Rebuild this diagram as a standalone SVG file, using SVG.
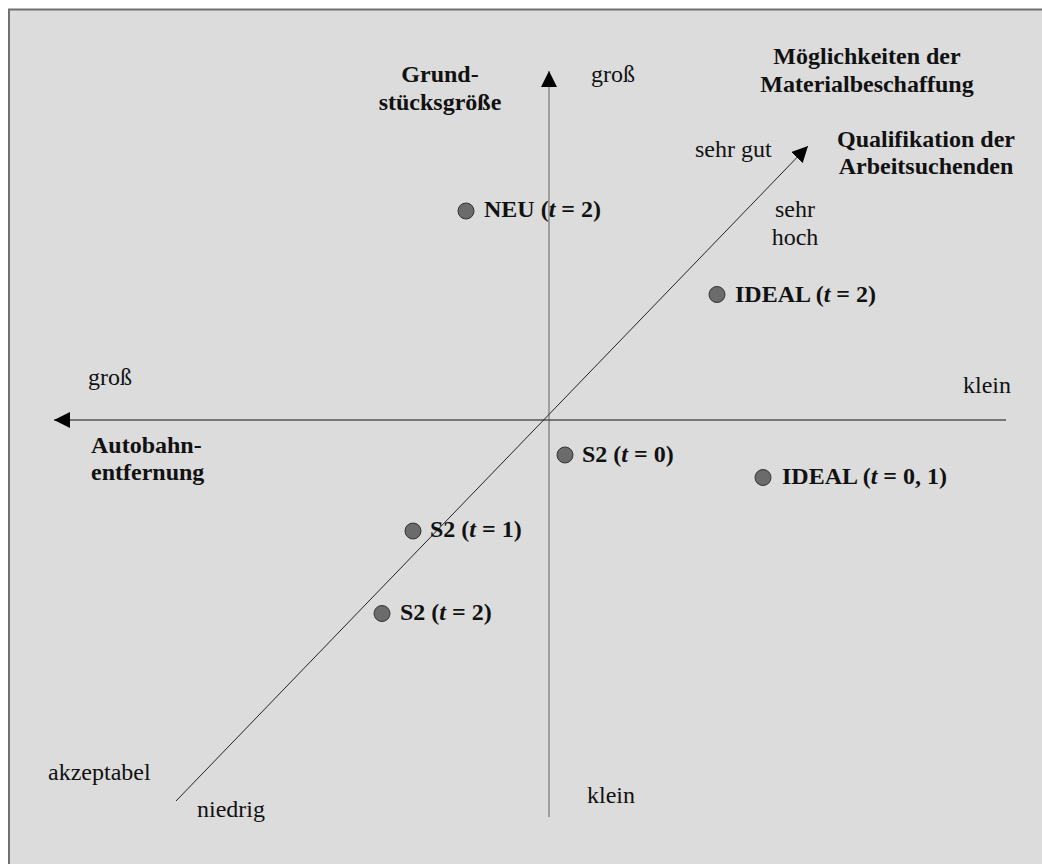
<svg xmlns="http://www.w3.org/2000/svg" width="1042" height="864" viewBox="0 0 1042 864">
  <style>
    text { font-family: "Liberation Serif", "Times New Roman", serif; font-size: 24px; fill: #111; }
    .b { font-weight: bold; }
    .i { font-style: italic; }
    .m { text-anchor: middle; }
    .dot { fill: #6b6b6b; stroke: #333; stroke-width: 1; }
  </style>
  <defs>
    <marker id="arr" markerUnits="userSpaceOnUse" viewBox="0 0 16 16" markerWidth="16" markerHeight="16" refX="16" refY="8" orient="auto">
      <path d="M0,0 L16,8 L0,16 z" fill="#000"/>
    </marker>
  </defs>
  <rect x="0" y="0" width="1042" height="864" fill="#fff"/>
  <rect id="frame" x="9" y="9.5" width="1100" height="900" fill="#dcdcdc" stroke="#707070" stroke-width="2"/>

  <g id="connectors">
    <line id="axis-y" x1="549" y1="817" x2="549" y2="71" stroke="#8a8a8a" stroke-width="1.5" marker-end="url(#arr)"/>
    <line id="axis-x" x1="1006" y1="420" x2="54" y2="420" stroke="#555" stroke-width="1.3" marker-end="url(#arr)"/>
    <line id="axis-z" x1="176" y1="801" x2="808" y2="146" stroke="#222" stroke-width="1" marker-end="url(#arr)"/>
  </g>

  <g id="axis-labels">
    <text class="b m" x="440" y="82">Grund-</text>
    <text class="b m" x="440" y="110">stücksgröße</text>
    <text x="591" y="82">groß</text>
    <text class="b m" x="867" y="64">Möglichkeiten der</text>
    <text class="b m" x="867" y="92">Materialbeschaffung</text>
    <text class="b m" x="926" y="147">Qualifikation der</text>
    <text class="b m" x="926" y="174">Arbeitsuchenden</text>
    <text x="695" y="157">sehr gut</text>
    <text class="m" x="795" y="217">sehr</text>
    <text class="m" x="795" y="245">hoch</text>
    <text x="88" y="385">groß</text>
    <text x="963" y="393">klein</text>
    <text class="b" x="91" y="453">Autobahn-</text>
    <text class="b" x="91" y="480">entfernung</text>
    <text x="48" y="780">akzeptabel</text>
    <text x="197" y="817">niedrig</text>
    <text x="587" y="803">klein</text>
  </g>

  <g id="node-neu">
    <circle class="dot" cx="466" cy="211" r="8"/>
    <text class="b" x="484" y="217">NEU (<tspan class="i">t</tspan> = 2)</text>
  </g>
  <g id="node-ideal-2">
    <circle class="dot" cx="717" cy="294.5" r="8"/>
    <text class="b" x="735" y="302">IDEAL (<tspan class="i">t</tspan> = 2)</text>
  </g>
  <g id="node-s2-0">
    <circle class="dot" cx="565" cy="455" r="8"/>
    <text class="b" x="582" y="462">S2 (<tspan class="i">t</tspan> = 0)</text>
  </g>
  <g id="node-ideal-01">
    <circle class="dot" cx="763" cy="477.5" r="8"/>
    <text class="b" x="782" y="484">IDEAL (<tspan class="i">t</tspan> = 0, 1)</text>
  </g>
  <g id="node-s2-1">
    <circle class="dot" cx="413" cy="531" r="8"/>
    <text class="b" x="430" y="537">S2 (<tspan class="i">t</tspan> = 1)</text>
  </g>
  <g id="node-s2-2">
    <circle class="dot" cx="382" cy="613.5" r="8"/>
    <text class="b" x="400" y="620">S2 (<tspan class="i">t</tspan> = 2)</text>
  </g>
</svg>
